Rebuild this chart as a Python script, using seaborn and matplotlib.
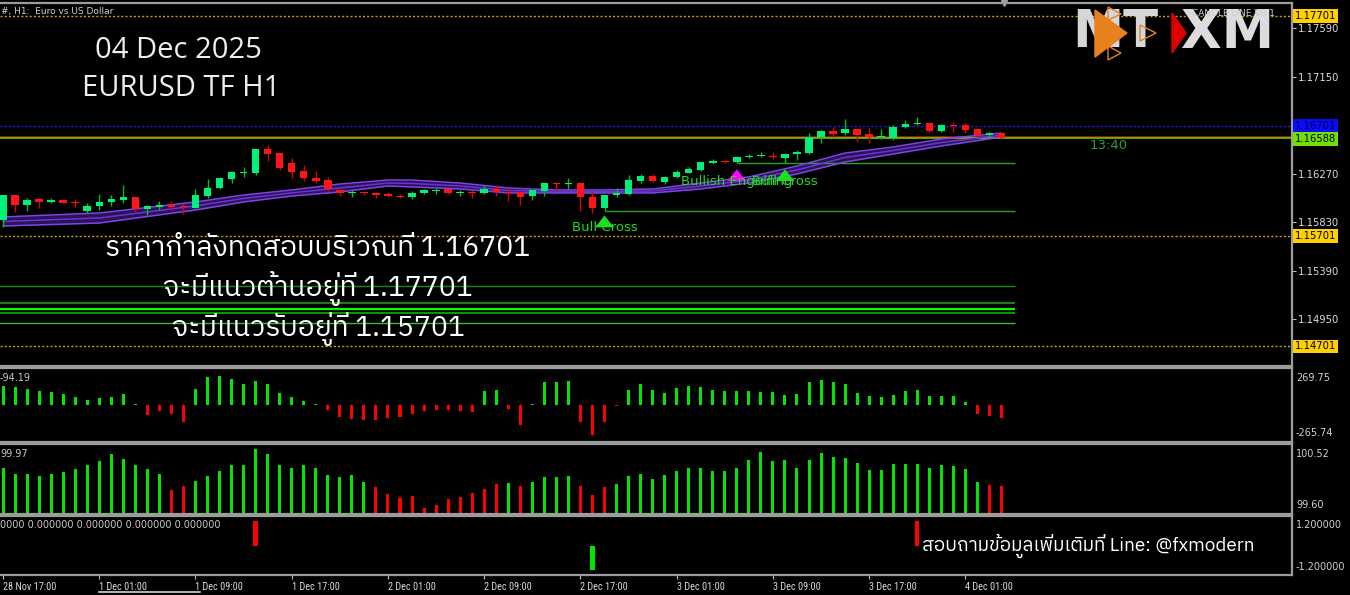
import numpy as np
import pandas as pd
import matplotlib
matplotlib.use('Agg')
import matplotlib.pyplot as plt
import matplotlib.transforms as mtransforms
from matplotlib import font_manager as fm
from matplotlib.patches import Polygon
from matplotlib.lines import Line2D
import seaborn as sns

# ---- EURUSD H1 candles (28 Nov 17:00 -> 4 Dec 04:00) ----
opens = [1.15849, 1.16075, 1.15985, 1.16036, 1.16015, 1.16030, 1.16015, 1.15933, 1.15976, 1.16009,
         1.16030, 1.16054, 1.15951, 1.15964, 1.15982, 1.15976, 1.15960, 1.16069, 1.16136, 1.16220,
         1.16278, 1.16272, 1.16493, 1.16454, 1.16363, 1.16293, 1.16232, 1.16211, 1.16121, 1.16091,
         1.16103, 1.16096, 1.16084, 1.16069, 1.16060, 1.16091, 1.16109, 1.16127, 1.16091, 1.16105,
         1.16091, 1.16130, 1.16105, 1.16103, 1.16066, 1.16114, 1.16187, 1.16172, 1.16187, 1.16060,
         1.15955, 1.16075, 1.16084, 1.16205, 1.16248, 1.16196, 1.16236, 1.16278, 1.16302, 1.16368,
         1.16384, 1.16372, 1.16417, 1.16425, 1.16432, 1.16414, 1.16447, 1.16454, 1.16604, 1.16656,
         1.16635, 1.16671, 1.16626, 1.16599, 1.16590, 1.16689, 1.16717, 1.16731, 1.16659, 1.16713,
         1.16710, 1.16671, 1.16622, 1.16640]
highs = [1.16078, 1.16078, 1.16048, 1.16040, 1.16045, 1.16036, 1.16036, 1.16000, 1.16084, 1.16075,
         1.16166, 1.16060, 1.15985, 1.16024, 1.16021, 1.15994, 1.16127, 1.16218, 1.16241, 1.16290,
         1.16327, 1.16497, 1.16529, 1.16458, 1.16408, 1.16348, 1.16293, 1.16241, 1.16125, 1.16121,
         1.16112, 1.16100, 1.16105, 1.16084, 1.16114, 1.16130, 1.16142, 1.16130, 1.16121, 1.16121,
         1.16157, 1.16166, 1.16145, 1.16105, 1.16125, 1.16184, 1.16196, 1.16227, 1.16190, 1.16100,
         1.16078, 1.16136, 1.16257, 1.16263, 1.16263, 1.16245, 1.16302, 1.16332, 1.16377, 1.16399,
         1.16393, 1.16429, 1.16447, 1.16468, 1.16468, 1.16459, 1.16483, 1.16640, 1.16662, 1.16695,
         1.16762, 1.16675, 1.16686, 1.16671, 1.16710, 1.16756, 1.16780, 1.16735, 1.16715, 1.16740,
         1.16726, 1.16683, 1.16650, 1.16645]
lows = [1.15788, 1.15924, 1.15933, 1.15957, 1.16006, 1.16000, 1.15964, 1.15909, 1.15939, 1.15976,
        1.16006, 1.15924, 1.15894, 1.15939, 1.15939, 1.15900, 1.15955, 1.16045, 1.16127, 1.16187,
        1.16241, 1.16257, 1.16386, 1.16302, 1.16227, 1.16205, 1.16181, 1.16105, 1.16069, 1.16060,
        1.16075, 1.16051, 1.16054, 1.16048, 1.16036, 1.16084, 1.16084, 1.16084, 1.16069, 1.16051,
        1.16084, 1.16069, 1.16021, 1.15982, 1.16030, 1.16069, 1.16114, 1.16130, 1.15930, 1.15909,
        1.15930, 1.16060, 1.16075, 1.16187, 1.16196, 1.16172, 1.16230, 1.16275, 1.16296, 1.16356,
        1.16363, 1.16366, 1.16411, 1.16417, 1.16399, 1.16363, 1.16393, 1.16450, 1.16550, 1.16604,
        1.16620, 1.16559, 1.16544, 1.16581, 1.16574, 1.16685, 1.16710, 1.16650, 1.16644, 1.16644,
        1.16640, 1.16611, 1.16599, 1.16588]
closes = [1.16075, 1.15985, 1.16030, 1.16015, 1.16033, 1.16006, 1.16006, 1.15978, 1.16015, 1.16036,
          1.16054, 1.15948, 1.15973, 1.15985, 1.15969, 1.15964, 1.16075, 1.16136, 1.16227, 1.16281,
          1.16287, 1.16493, 1.16444, 1.16318, 1.16287, 1.16227, 1.16202, 1.16127, 1.16091, 1.16100,
          1.16091, 1.16075, 1.16064, 1.16054, 1.16096, 1.16121, 1.16121, 1.16091, 1.16105, 1.16096,
          1.16130, 1.16103, 1.16096, 1.16060, 1.16121, 1.16181, 1.16175, 1.16181, 1.16060, 1.15955,
          1.16075, 1.16091, 1.16211, 1.16248, 1.16202, 1.16241, 1.16287, 1.16308, 1.16372, 1.16384,
          1.16375, 1.16417, 1.16432, 1.16437, 1.16417, 1.16444, 1.16463, 1.16604, 1.16659, 1.16629,
          1.16671, 1.16622, 1.16604, 1.16611, 1.16689, 1.16719, 1.16731, 1.16659, 1.16710, 1.16701,
          1.16665, 1.16620, 1.16635, 1.16588]

# purple MA ribbon, read at a few bars
ma_idx = [0, 8, 16, 20, 24, 28, 32, 34, 38, 42, 46, 50, 54, 58, 62, 66, 70, 74, 78, 83]
ma_top = [1.15876, 1.15912, 1.16012, 1.16075, 1.16121, 1.16175, 1.16211, 1.16211, 1.16184, 1.16139,
          1.16121, 1.16121, 1.16130, 1.16184, 1.16239, 1.16338, 1.16456, 1.16511, 1.16583, 1.16638]
ma_mid = [1.15835, 1.15867, 1.15976, 1.16044, 1.16094, 1.16139, 1.16184, 1.16180, 1.16157, 1.16116,
          1.16107, 1.16107, 1.16112, 1.16157, 1.16211, 1.16302, 1.16416, 1.16479, 1.16551, 1.16620]
ma_bot = [1.15794, 1.15821, 1.15939, 1.16012, 1.16066, 1.16103, 1.16157, 1.16148, 1.16130, 1.16094,
          1.16094, 1.16094, 1.16094, 1.16130, 1.16184, 1.16266, 1.16375, 1.16447, 1.16520, 1.16601]

# levels
level_prices = [1.17701, 1.15701, 1.14701]
level_labels = ['1.17701', '1.15701', '1.14701']
test_price = 1.16701
bid_price = 1.16588
price_ticks = [1.17590, 1.17150, 1.16270, 1.15830, 1.15390, 1.14950]
green_lines = [1.16366, 1.15930, 1.15253, 1.15096, 1.15041, 1.15008, 1.14912]
green_start = [61, 50, -1, -1, -1, -1, -1]
green_colors = ['#1faa1f', '#1faa1f', '#148a14', '#1a9a1a', '#00ff00', '#00a000', '#30c030']
green_widths = [1, 1, 1, 1.2, 1.6, 1.4, 1]

# pattern signals
sig_idx = [50, 61, 65]
sig_tip = [1.15914, 1.16334, 1.16334]
sig_tail = [1.15800, 1.16222, 1.16222]
sig_text_price = [1.15776, 1.16202, 1.16202]
sig_text = ['Bull Cross', 'Bullish Engulfing', 'Bull Cross']
sig_color = ['#1fe01f', '#ff00ff', '#1fe01f']

# sub-window 1 histogram
osc1 = [139, 131, 115, 103, 96, 81, 60, 36, 55, 60, 81, 7, -72, -43, -60, -120, 115, 206, 215, 189,
        155, 177, 151, 86, 60, 29, 12, -31, -84, -100, -103, -103, -91, -86, -65, -45, -33, -33, -38, -48,
        100, 112, -29, -141, 7, 165, 167, 177, -124, -215, -120, -5, 112, 151, 112, 86, 122, 139, 129, 112,
        100, 100, 100, 96, 96, 76, 81, 165, 186, 170, 151, 86, 65, 60, 76, 105, 112, 65, 65, 65,
        22, -60, -76, -94.19]
# sub-window 2 histogram
osc2 = [100.21, 100.13, 100.13, 100.10, 100.12, 100.15, 100.19, 100.25, 100.29, 100.39,
        100.32, 100.25, 100.19, 100.12, 99.91, 99.97, 100.03, 100.10, 100.17, 100.24,
        100.25, 100.45, 100.39, 100.25, 100.20, 100.25, 100.20, 100.11, 100.09, 100.11,
        100.02, 99.95, 99.86, 99.81, 99.84, 99.68, 99.72, 99.80, 99.83, 99.88,
        99.93, 99.99, 100.01, 99.97, 100.02, 100.08, 100.09, 100.10, 99.97, 99.85,
        99.95, 100.00, 100.10, 100.13, 100.06, 100.11, 100.16, 100.21, 100.21, 100.17,
        100.17, 100.20, 100.31, 100.41, 100.29, 100.31, 100.21, 100.31, 100.40, 100.35,
        100.33, 100.27, 100.18, 100.18, 100.26, 100.26, 100.26, 100.20, 100.25, 100.23,
        100.19, 100.02, 99.98, 99.97]
# sub-window 3 spikes (all other bars are 0)
spike_idx = [21, 49, 76]
spike_val = [1, -1, 1]

time_labels = ['28 Nov 17:00', '1 Dec 01:00', '1 Dec 09:00', '1 Dec 17:00', '2 Dec 01:00', '2 Dec 09:00',
               '2 Dec 17:00', '3 Dec 01:00', '3 Dec 09:00', '3 Dec 17:00', '4 Dec 01:00']
time_pos = [0, 8, 16, 24, 32, 40, 48, 56, 64, 72, 80]

title_date = '04 Dec 2025'
title_pair = 'EURUSD TF H1'
thai_lines = ['ราคากำลังทดสอบบริเวณที่ 1.16701', 'จะมีแนวต้านอยู่ที่ 1.17701', 'จะมีแนวรับอยู่ที่ 1.15701']
thai_contact = 'สอบถามข้อมูลเพิ่มเติมที่ Line: @fxmodern'


def find_thai_font():
    from fontTools.ttLib import TTFont
    found = []
    for path in sorted(fm.findSystemFonts()):
        try:
            cmap = TTFont(path, fontNumber=0, lazy=True).getBestCmap()
        except Exception:
            continue
        if cmap and 0x0E01 in cmap:
            found.append(fm.FontProperties(fname=path).get_name())
    for name in found:
        if 'Sans' in name:
            return name
    return found[0] if found else 'DejaVu Sans'


sns.set_theme(style='dark', rc={'axes.facecolor': 'black', 'figure.facecolor': 'black'})
plt.rcParams['font.family'] = ['DejaVu Sans']
thai_font = find_thai_font()
installed = {f.name for f in fm.fontManager.ttflist}
narrow_font = next((n for n in ('Liberation Sans Narrow', 'DejaVu Sans Condensed', 'Roboto Condensed')
                    if n in installed), 'DejaVu Sans')

W, H = 1350, 595
fig = plt.figure(figsize=(W / 100, H / 100), dpi=100, facecolor='black')


def px_axes(x0, y0, x1, y1):
    return fig.add_axes([x0 / W, 1 - y1 / H, (x1 - x0) / W, (y1 - y0) / H])


ax = px_axes(0, 3, 1292, 366)
ax2 = px_axes(0, 368, 1292, 442)
ax3 = px_axes(0, 444, 1292, 514)
ax4 = px_axes(0, 516, 1292, 575)

o, h, l, c = map(np.array, (opens, highs, lows, closes))
idx = np.arange(len(c))
up = c >= o
x_lo, x_hi = -0.25, -0.25 + 1292 / 12.03

for a in (ax, ax2, ax3, ax4):
    a.set_facecolor('black')
    a.grid(False)
    for s in ('top', 'bottom', 'right'):
        a.spines[s].set_color('#9c9c9c')
        a.spines[s].set_linewidth(1.6)
    a.spines['left'].set_visible(False)

# ---- main price window ----
ax.fill_between(ma_idx, ma_bot, ma_top, color='#2b1358', lw=0, zorder=1)
for ma, col in zip((ma_top, ma_mid, ma_bot), ('#7d44e6', '#6a34cc', '#7d44e6')):
    sns.lineplot(x=ma_idx, y=ma, ax=ax, color=col, lw=1.1, zorder=2)

for p in level_prices:
    ax.axhline(p, color='#c9a200', lw=1, ls=(0, (1.5, 1.5)), zorder=1)
ax.axhline(test_price, color='#2222dd', lw=1, ls=(0, (1.5, 1.5)), zorder=1)
ax.hlines(green_lines, green_start, len(c) + 0.1, colors=green_colors, lw=green_widths, zorder=1)
shift_up = mtransforms.offset_copy(ax.transData, fig=fig, x=0, y=1.2, units='points')
ax.plot([x_lo, x_hi], [bid_price, bid_price], color='#d01010', lw=1.1, zorder=1, transform=shift_up)
ax.plot([x_lo, x_hi], [bid_price, bid_price], color='#66dd00', lw=1.1, zorder=1)

body_col = np.where(up, '#00f07a', '#ff1515')
wick_col = np.where(up, '#00c020', '#e00000')
ax.vlines(idx, l, h, colors=wick_col, lw=1, zorder=3)
ax.bar(idx, np.maximum(np.abs(c - o), 0.000018), bottom=np.minimum(o, c), width=0.62,
       color=body_col, lw=0, zorder=4)

for i, tip, tail, col in zip(sig_idx, sig_tip, sig_tail, sig_color):
    ax.annotate('', xy=(i, tip), xytext=(i, tail), zorder=5,
                arrowprops=dict(arrowstyle='simple,head_width=0.8,head_length=0.5,tail_width=0.38',
                                mutation_scale=17, color=col, lw=0))
for i, tp, txt in zip(sig_idx, sig_text_price, sig_text):
    ax.text(i, tp, txt, color='#22d822', fontsize=9.5, ha='center', va='center', zorder=6)

ax.text(90.3, bid_price - 0.00007, '13:40', color='#2f9a3f', fontsize=9.5, va='top', ha='left')

ax.set_xlim(x_lo, x_hi)
ax.set_ylim(1.14524, 1.17817)
ax.set_xticks([])
ax.yaxis.tick_right()
ax.set_yticks(price_ticks)
ax.set_yticklabels([f'{p:.5f}' for p in price_ticks])
ax.tick_params(axis='y', colors='#bdbdbd', labelcolor='#dcdcdc', labelsize=7.2, length=3, width=0.8, pad=1.5)
ax.set_xlabel('')
ax.set_ylabel('')

lab_tr = mtransforms.blended_transform_factory(ax.transAxes, ax.transData)
for p, s in zip(level_prices, level_labels):
    ax.text(1.0025, p, s, transform=lab_tr, fontsize=7.2, color='black', va='center', ha='left',
            bbox=dict(facecolor='#ffd000', edgecolor='none', pad=1.3), clip_on=False)
ax.text(1.0025, test_price + 0.00004, f'{test_price:.5f}', transform=lab_tr, fontsize=7.2, color='#000030',
        va='center', ha='left', bbox=dict(facecolor='#0a0aff', edgecolor='none', pad=1.3), clip_on=False)
ax.text(1.0025, bid_price - 0.00003, f'{bid_price:.5f}', transform=lab_tr, fontsize=7.2, color='black',
        va='center', ha='left', bbox=dict(facecolor='#6fe000', edgecolor='none', pad=1.3), clip_on=False)

ax.text(0.001, 0.977, '#, H1:  Euro vs US Dollar', transform=ax.transAxes, color='#d0d0d0', fontsize=6.5,
        va='center', ha='left')
ax.plot([len(c) - 0.8], [1.0], marker='v', color='#a0a0a0', ms=5, transform=mtransforms.blended_transform_factory(
    ax.transData, ax.transAxes), clip_on=False)

# ---- sub-window 1 ----
df1 = pd.DataFrame({'bar': idx, 'val': osc1, 'side': np.where(np.array(osc1) >= 0, 'up', 'down')})
sns.barplot(data=df1, x='bar', y='val', hue='side', palette={'up': '#00e600', 'down': '#ff0000'},
            native_scale=True, width=0.25, dodge=False, legend=False, errorbar=None, saturation=1,
            lw=0, ax=ax2)
ax2.set_ylim(-265.74, 269.75)

# ---- sub-window 2 ----
df2 = pd.DataFrame({'bar': idx, 'val': osc2, 'side': np.where(np.array(osc2) >= 100, 'up', 'down')})
sns.barplot(data=df2, x='bar', y='val', hue='side', palette={'up': '#00e600', 'down': '#ff0000'},
            native_scale=True, width=0.25, dodge=False, legend=False, errorbar=None, saturation=1,
            lw=0, ax=ax3)
ax3.set_ylim(99.60, 100.52)

# ---- sub-window 3 ----
spikes = np.zeros(len(c))
spikes[spike_idx] = spike_val
df3 = pd.DataFrame({'bar': idx, 'val': spikes, 'side': np.where(spikes > 0, 'up', 'down')})
sns.barplot(data=df3, x='bar', y='val', hue='side', palette={'up': '#ff0000', 'down': '#00e600'},
            native_scale=True, width=0.36, dodge=False, legend=False, errorbar=None, saturation=1,
            lw=0, ax=ax4)
ax4.set_ylim(-1.2, 1.2)

for a, top, bot, left in ((ax2, '269.75', '-265.74', '-94.19'), (ax3, '100.52', '99.60', '99.97'),
                          (ax4, '1.200000', '-1.200000', '0000 0.000000 0.000000 0.000000 0.000000')):
    a.set_xlim(x_lo, x_hi)
    a.set_yticks([])
    a.set_xlabel('')
    a.set_ylabel('')
    a.text(1.003, 0.93, top, transform=a.transAxes, color='#d0d0d0', fontsize=7, va='top', ha='left')
    a.text(1.003, 0.05, bot, transform=a.transAxes, color='#d0d0d0', fontsize=7, va='bottom', ha='left')
    a.text(0.0, 0.93, left, transform=a.transAxes, color='#c8c8c8', fontsize=7, va='top', ha='left')

for a in (ax, ax2, ax3):
    a.set_xticks([])
ax4.set_xticks(time_pos)
ax4.set_xticklabels(time_labels, ha='left', family=narrow_font, stretch='condensed')
ax4.tick_params(axis='x', colors='#bdbdbd', labelcolor='#d8d8d8', labelsize=7.4, length=3, width=0.8,
                pad=2, bottom=True)
fig.add_artist(Line2D([99 / W, 200 / W], [1 - 592 / H, 1 - 592 / H], color='#b0b0b0', lw=1.5))

# ---- overlay texts ----
fig.text(178 / W, 1 - 50 / H, title_date, color='#eeeeee', fontsize=21, ha='center', va='center',
         family=['Open Sans', 'DejaVu Sans'])
fig.text(181 / W, 1 - 88 / H, title_pair, color='#eeeeee', fontsize=21, ha='center', va='center',
         family=['Open Sans', 'DejaVu Sans'])
for txt, yy in zip(thai_lines, (248, 289, 329)):
    fig.text(318 / W, 1 - yy / H, txt, color='white', fontsize=20.3, ha='center', va='center',
             family=[thai_font, 'DejaVu Sans'])
fig.text(922 / W, 1 - 546 / H, thai_contact, color='white', fontsize=13.7, ha='left', va='center',
         family=[thai_font, 'DejaVu Sans'])

# ---- logo ----
lax = fig.add_axes([1070 / W, 1 - 62 / H, 210 / W, 60 / H])
lax.set_xlim(1070, 1280)
lax.set_ylim(62, 2)
lax.axis('off')
lax.text(1072, 33, 'MT', color='#d6d6d6', fontsize=37, fontweight='bold', ha='left', va='center')
lax.add_patch(Polygon([(1095, 10), (1127, 33), (1095, 57)], closed=True, color='#e8801e', zorder=3))
for tri in ([(1108, 7), (1121, 14), (1108, 20)], [(1108, 46), (1121, 53), (1108, 60)],
            [(1140, 25), (1156, 33), (1140, 41)]):
    lax.add_patch(Polygon(tri, closed=True, fill=False, ec='#e8801e', lw=1, zorder=3))
lax.add_patch(Polygon([(1172, 13), (1186, 33), (1172, 53)], closed=True, color='#dd0000', zorder=3))
lax.text(1181, 33, 'XM', color='#dcdcdc', fontsize=38, fontweight='bold', ha='left', va='center')
lax.text(1192, 13, 'CANDLE LINE V8.1', color='#d0d0d0', fontsize=6.5, ha='left', va='center', zorder=5)

fig.savefig('out.png', dpi=100, facecolor='black')
